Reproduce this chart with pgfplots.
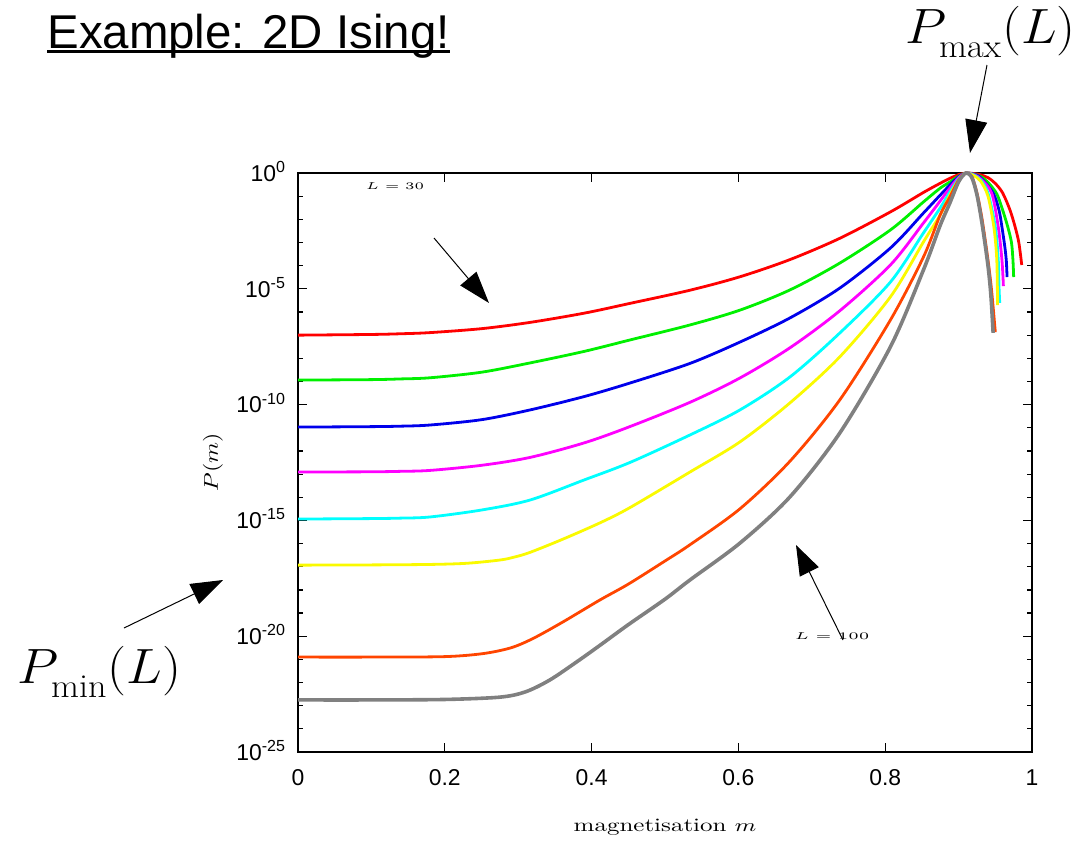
\documentclass[border=0pt]{standalone}
\usepackage{pgfplots}
\usepackage{pgfplotstable}
\pgfplotsset{compat=1.18}
\usepackage{fontspec}
\newfontfamily\arial{Liberation Sans}
\usetikzlibrary{arrows.meta}

\definecolor{cred}{RGB}{255,0,0}
\definecolor{cgreen}{RGB}{0,240,0}
\definecolor{cblue}{RGB}{0,0,235}
\definecolor{cmag}{RGB}{255,0,255}
\definecolor{ccyan}{RGB}{0,255,255}
\definecolor{cyel}{RGB}{250,250,0}
\definecolor{corange}{RGB}{255,69,0}
\definecolor{cgray}{RGB}{128,128,128}

\pgfplotsset{curve/.style={line width=1.4bp, smooth, tension=0.5, mark=none}}

% columns: m, log10 P(m)
\pgfplotstableread{
m lp
0 -7.00
0.10 -6.97
0.14 -6.94
0.18 -6.89
0.25 -6.72
0.316 -6.45
0.39 -6.05
0.452 -5.63
0.534 -5.06
0.602 -4.48
0.670 -3.74
0.738 -2.82
0.807 -1.68
0.852 -0.84
0.875 -0.44
0.888 -0.23
0.90 -0.07
0.91 0
0.92 -0.02
0.93 -0.08
0.94 -0.20
0.95 -0.45
0.96 -0.86
0.97 -1.60
0.977 -2.33
0.982 -3.00
0.986 -3.97
}\redtab
\pgfplotstableread{
m lp
0 -8.94
0.10 -8.92
0.14 -8.89
0.18 -8.84
0.25 -8.60
0.316 -8.20
0.39 -7.70
0.452 -7.21
0.534 -6.56
0.602 -5.92
0.670 -5.05
0.738 -3.89
0.807 -2.46
0.852 -1.25
0.875 -0.65
0.888 -0.39
0.90 -0.13
0.91 0
0.92 -0.04
0.93 -0.15
0.94 -0.40
0.952 -0.90
0.96 -1.60
0.967 -2.33
0.972 -3.00
0.974 -3.75
0.975 -4.49
}\greentab
\pgfplotstableread{
m lp
0 -10.97
0.10 -10.95
0.14 -10.93
0.18 -10.88
0.25 -10.65
0.316 -10.23
0.39 -9.65
0.452 -9.07
0.534 -8.22
0.602 -7.30
0.670 -6.26
0.738 -4.97
0.807 -3.24
0.852 -1.73
0.875 -0.95
0.888 -0.52
0.90 -0.16
0.91 0
0.92 -0.05
0.93 -0.20
0.947 -0.86
0.955 -1.60
0.959 -2.33
0.963 -3.20
0.965 -3.80
0.966 -4.49
}\bluetab
\pgfplotstableread{
m lp
0 -12.91
0.10 -12.90
0.14 -12.88
0.18 -12.84
0.25 -12.62
0.316 -12.28
0.39 -11.65
0.452 -10.95
0.534 -9.90
0.602 -8.85
0.670 -7.55
0.738 -5.95
0.807 -3.97
0.852 -2.16
0.875 -1.20
0.888 -0.65
0.90 -0.20
0.91 0
0.92 -0.06
0.93 -0.25
0.945 -0.86
0.954 -2.33
0.959 -3.75
0.961 -4.88
}\magtab
\pgfplotstableread{
m lp
0 -14.94
0.10 -14.92
0.14 -14.90
0.18 -14.85
0.25 -14.55
0.316 -14.12
0.39 -13.25
0.452 -12.50
0.534 -11.31
0.602 -10.23
0.670 -8.81
0.738 -6.91
0.807 -4.71
0.852 -2.59
0.875 -1.50
0.888 -0.82
0.90 -0.25
0.91 0
0.92 -0.08
0.93 -0.30
0.94 -0.86
0.95 -2.33
0.954 -3.75
0.955 -4.90
0.956 -5.61
}\cyantab
\pgfplotstableread{
m lp
0 -16.93
0.10 -16.92
0.18 -16.90
0.23 -16.85
0.275 -16.71
0.295 -16.58
0.316 -16.38
0.36 -15.82
0.411 -15.11
0.452 -14.45
0.534 -12.91
0.602 -11.61
0.670 -9.93
0.738 -7.94
0.807 -5.35
0.852 -2.98
0.875 -1.80
0.888 -0.95
0.90 -0.30
0.91 0
0.92 -0.10
0.93 -0.35
0.94 -1.00
0.948 -2.33
0.952 -3.75
0.953 -5.70
}\yeltab
\pgfplotstableread{
m lp
0 -20.90
0.10 -20.90
0.20 -20.88
0.252 -20.75
0.29 -20.50
0.32 -20.10
0.36 -19.40
0.411 -18.44
0.45 -17.75
0.50 -16.75
0.534 -16.05
0.602 -14.50
0.670 -12.45
0.738 -9.80
0.807 -6.35
0.852 -3.63
0.875 -1.80
0.888 -1.04
0.90 -0.30
0.91 0
0.918 -0.15
0.925 -0.86
0.932 -2.00
0.94 -3.75
0.945 -5.10
0.950 -6.87
}\orangetab
\pgfplotstableread{
m lp
0 -22.75
0.10 -22.75
0.20 -22.73
0.275 -22.63
0.31 -22.40
0.343 -21.89
0.38 -21.10
0.411 -20.40
0.45 -19.50
0.50 -18.40
0.534 -17.57
0.602 -15.98
0.670 -13.99
0.738 -11.23
0.807 -7.51
0.852 -4.19
0.875 -2.25
0.888 -1.30
0.90 -0.38
0.91 0
0.918 -0.20
0.925 -0.95
0.932 -2.20
0.94 -4.00
0.944 -5.30
0.947 -6.90
}\graytab

\begin{document}
\begin{tikzpicture}
\begin{scope}[x=0.5bp,y=-0.5bp]
\path[use as bounding box] (0,0) rectangle (1077,835);
\end{scope}
\begin{axis}[
  at={(149bp,-376bp)}, anchor=south west,
  width=367bp, height=289.5bp, scale only axis,
  xmin=0, xmax=1,
  ymode=log, ymin=1e-25, ymax=1,
  clip=false,
  xtick={0,0.2,0.4,0.6,0.8,1},
  xticklabels={0,0.2,0.4,0.6,0.8,1},
  ytick={1e-25,1e-20,1e-15,1e-10,1e-5,1},
  yticklabels={10\textsuperscript{-25},10\textsuperscript{-20},10\textsuperscript{-15},10\textsuperscript{-10},10\textsuperscript{-5},10\textsuperscript{0}},
  minor ytick={1e-24,1e-23,1e-22,1e-21,1e-19,1e-18,1e-17,1e-16,1e-14,1e-13,1e-12,1e-11,1e-9,1e-8,1e-7,1e-6,1e-4,1e-3,1e-2,1e-1},
  xtick pos=both, xticklabel pos=lower,
  ytick pos=both, yticklabel pos=left,
  tick align=inside,
  major tick length=4.5bp, minor tick length=2.5bp,
  axis line style={line width=0.6bp},
  every tick/.style={black, line width=0.6bp},
  tick label style={font=\arial\fontsize{11.5}{13}\selectfont},
  yticklabel style={anchor=base east, yshift=-4.1bp, xshift=-2.5bp},
  xticklabel style={anchor=base, yshift=-16.5bp},
  xlabel={\scalebox{1.32}[1]{\fontsize{9.5}{11}\selectfont magnetisation $m$}},
  xlabel style={at={(axis description cs:0.5,-0.1364)}, anchor=base},
  ylabel={\scalebox{1.2}[1]{\fontsize{10}{12}\selectfont $P(m)$}},
  ylabel style={at={(axis description cs:-0.116,0.5)}, anchor=center},
]
\addplot[curve, cred] table[x=m, y expr={10^(\thisrow{lp})}] {\redtab};
\addplot[curve, cgreen] table[x=m, y expr={10^(\thisrow{lp})}] {\greentab};
\addplot[curve, cblue] table[x=m, y expr={10^(\thisrow{lp})}] {\bluetab};
\addplot[curve, cmag] table[x=m, y expr={10^(\thisrow{lp})}] {\magtab};
\addplot[curve, ccyan] table[x=m, y expr={10^(\thisrow{lp})}] {\cyantab};
\addplot[curve, cyel] table[x=m, y expr={10^(\thisrow{lp})}] {\yeltab};
\addplot[curve, corange] table[x=m, y expr={10^(\thisrow{lp})}] {\orangetab};
\addplot[curve, cgray, line width=1.8bp] table[x=m, y expr={10^(\thisrow{lp})}] {\graytab};
\end{axis}
\begin{scope}[x=0.5bp,y=-0.5bp]
  \node[anchor=base west, inner sep=0, font=\arial\fontsize{23.8}{28}\selectfont] (title) at (47,48) {Example: 2D Ising!};
  \draw[line width=1.5bp] ([yshift=-1.85bp]title.base west) -- ([yshift=-1.85bp]title.base east);
  \node[anchor=base west, inner sep=0, font=\fontsize{24}{28}\selectfont] at (905,43) {\scalebox{1.08}[1]{$P_{\lower3.5bp\hbox{$\scriptstyle\max$}}(L)$}};
  \node[anchor=base west, inner sep=0, font=\fontsize{24}{28}\selectfont] at (17,683) {\scalebox{1.08}[1]{$P_{\lower3.5bp\hbox{$\scriptstyle\min$}}(L)$}};
  \draw[line width=0.5bp, -{Triangle[length=16.5bp, width=11bp]}] (987,65) -- (970,153);
  \draw[line width=0.5bp, -{Triangle[length=16bp, width=11bp]}] (124,628) -- (223,580);
  \draw[line width=0.5bp, -{Triangle[length=16bp, width=10.5bp]}] (434,238) -- (489,303);
  \draw[line width=0.5bp, -{Triangle[length=15bp, width=10.5bp]}] (843,640) -- (796,545);
  \node[inner sep=0] at (395,186) {\scalebox{1.4}[1]{\fontsize{4.5}{5}\selectfont $L=30$}};
  \node[inner sep=0] at (832,636) {\scalebox{1.55}[1]{\fontsize{5}{6}\selectfont $L=100$}};
\end{scope}
\end{tikzpicture}
\end{document}
